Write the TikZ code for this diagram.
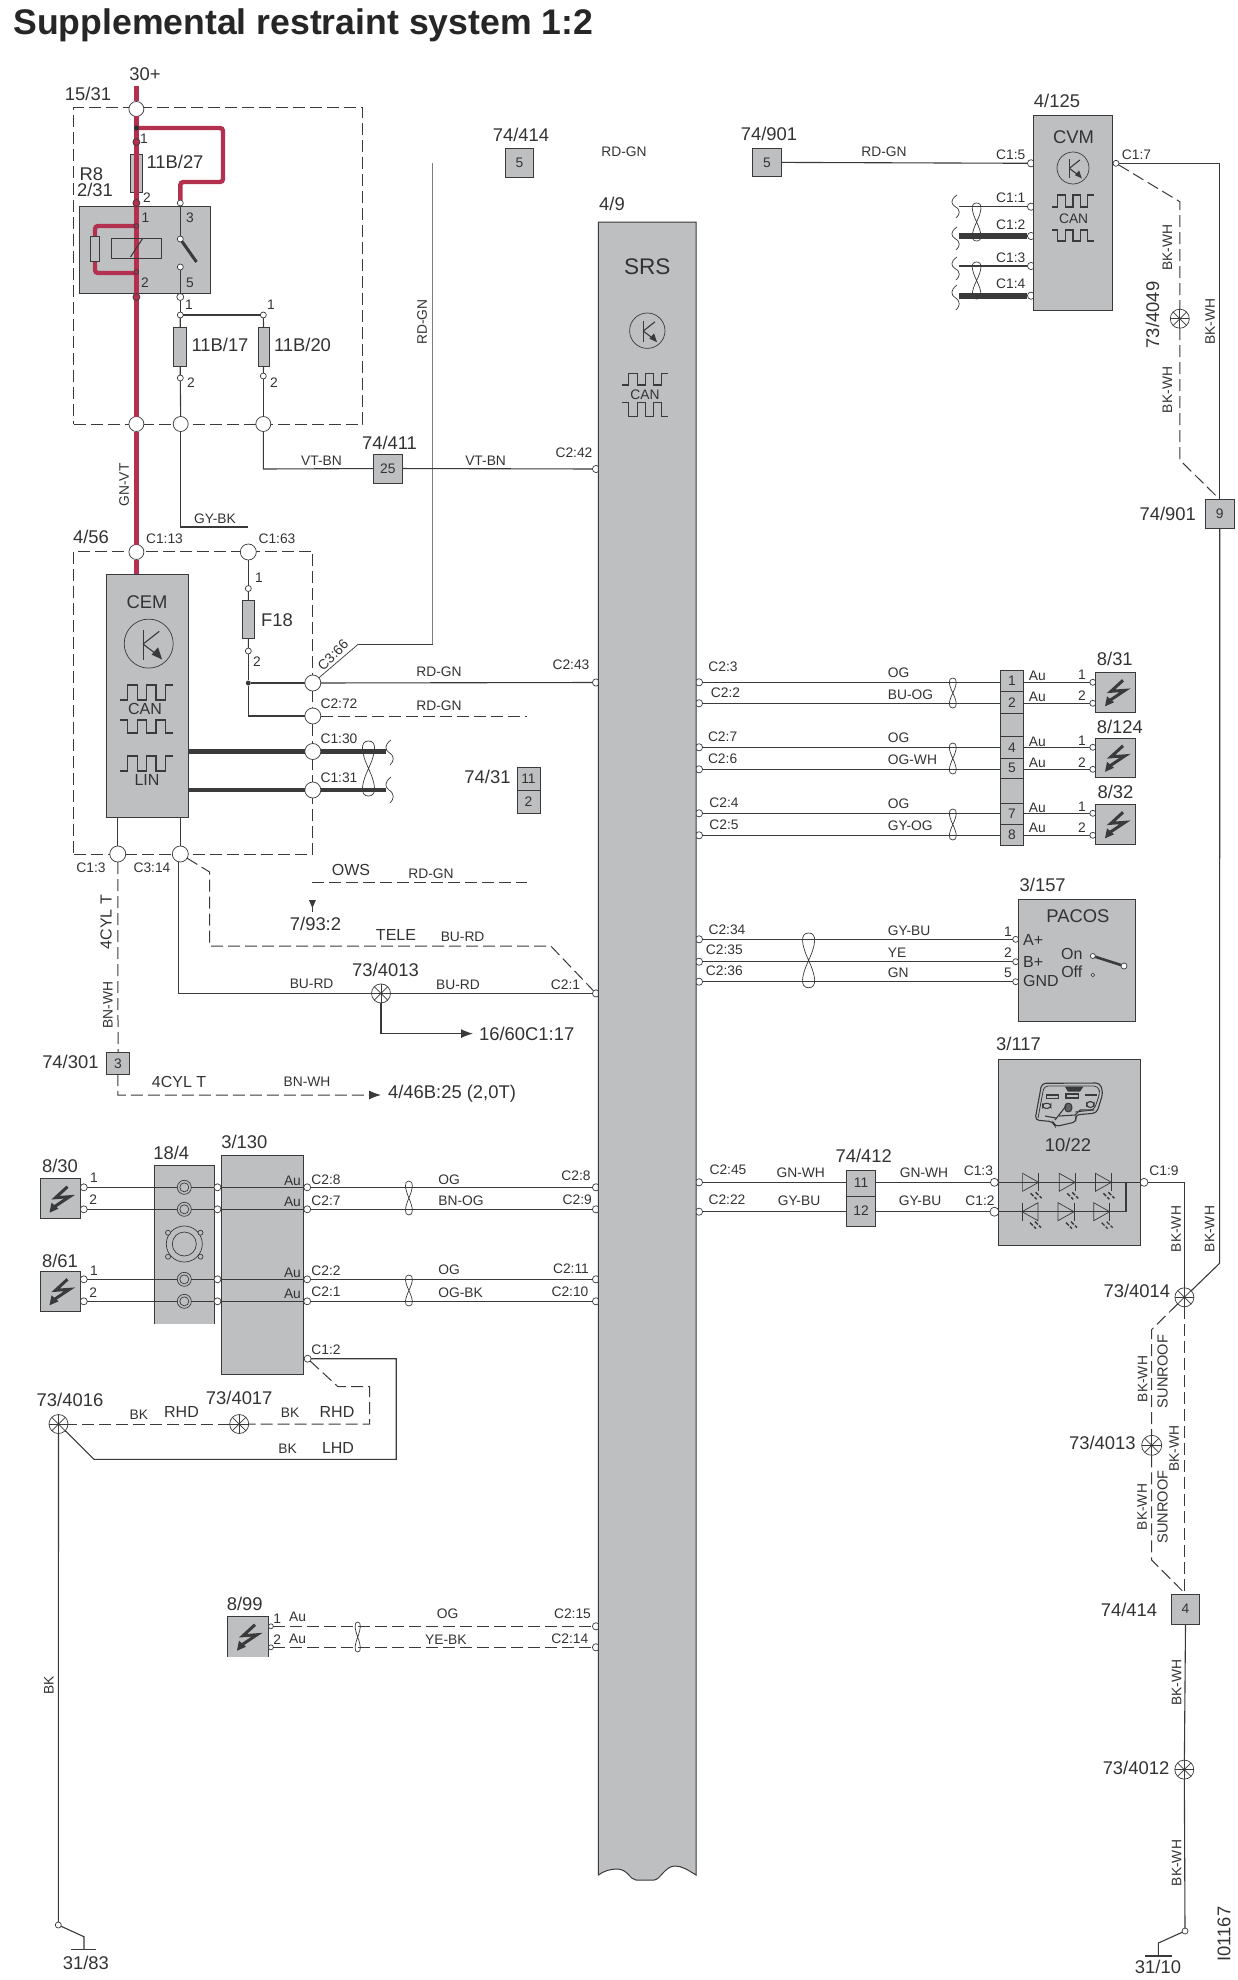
\documentclass[tikz,border=0pt]{standalone}
\usepackage{fontspec}
\setmainfont{Liberation Sans}
\usetikzlibrary{calc,arrows.meta}
\definecolor{wirec}{HTML}{3A3A3A}
\definecolor{boxc}{HTML}{BDBFC1}
\definecolor{redc}{HTML}{B4304F}
\definecolor{txtc}{HTML}{333333}
\newcounter{tn}
\tikzset{
 txt/.style={inner sep=0pt,text=txtc,font=\fontsize{6.9}{8}\selectfont},
 lg/.style={font=\fontsize{9.2}{10}\selectfont},
 md/.style={font=\fontsize{8}{9}\selectfont},
 vert/.style={rotate=90},
 bx/.style={rectangle,draw=wirec,fill=boxc,line width=.5pt,inner sep=0pt,outer sep=0pt,text=txtc,font=\fontsize{6.9}{8}\selectfont},
 pin/.style={circle,draw=wirec,fill=white,line width=.35pt,inner sep=0pt,outer sep=0pt},
 rpin/.style={pin,fill=redc},
 wr/.style={draw=wirec,line width=.55pt},
 wthin/.style={draw=wirec,line width=.35pt},
 dsh/.style={draw=wirec,line width=.5pt,dash pattern=on 6pt off 2.5pt},
 thick bus/.style={draw=wirec,line width=2.6pt},
 redw/.style={draw=redc,line width=2.8pt},
 redb/.style={draw=redc,line width=2.2pt,rounded corners=1.5pt},
}
\newcommand\TX[4][]{\stepcounter{tn}\node[txt,#1] (t\arabic{tn}) at (#2,#3) {#4};}
\newcommand\BX[7][]{\pgfmathsetmacro\bw{(#5-#3)*0.5}\pgfmathsetmacro\bh{(#6-#4)*0.5}%
 \node[bx,minimum width=\bw pt,minimum height=\bh pt,#1] (#2) at ({(#3+#5)/2},{(#4+#6)/2}) {#7};}
\newcommand\PN[5][]{\node[pin,minimum size=#5*0.5pt,#1] (#2) at (#3,#4) {};}
\newcommand\SPL[4]{\node[pin,minimum size=#4*0.5pt] (#1) at (#2,#3) {};
 \foreach \a/\b in {0/180,45/225,90/270,135/315}{\draw[wthin] (#1.\a) -- (#1.\b);}}
\newcommand\CC[3]{\coordinate (#1) at (#2,#3);}
\newcommand\WV[5][1]{\begin{scope}[shift={(#2,#3)},xscale=#4,yscale=#5]
 \draw[wr] (0,1)--(.14,1)--(.14,0)--(.33,0)--(.33,1)--(.5,1)--(.5,0)--(.68,0)--(.68,1)--(.85,1)--(.85,0)--(1,0);
 \end{scope}}
\newcommand\TR[3]{\begin{scope}[shift={(#1,#2)},scale=#3]
 \draw[wthin] (0,0) circle (1);
 \draw[wr] (-.23,-.55)--(-.23,.65);
 \draw[wr] (-.23,.02)--(.43,-.5);
 \draw[wr] (-.23,.02)--(.3,.42);
 \fill[wirec] (.55,.65)--(.12,.45)--(.38,.15)--cycle;
 \end{scope}}
\newcommand\TW[4]{\pgfmathsetmacro\ym{(#2+#3)/2}%
 \draw[wthin] (#1,\ym) .. controls ({#1-#4},{#2+(\ym-#2)*.45}) and ({#1-1.3*#4},#2) .. (#1,#2)
  .. controls ({#1+1.3*#4},#2) and ({#1+#4},{#2+(\ym-#2)*.45}) .. (#1,\ym)
  .. controls ({#1-#4},{#3-(#3-\ym)*.45}) and ({#1-1.3*#4},#3) .. (#1,#3)
  .. controls ({#1+1.3*#4},#3) and ({#1+#4},{#3-(#3-\ym)*.45}) .. (#1,\ym);}
\newcommand\BK[3]{\pgfmathsetmacro\dd{#3-#2}%
 \draw[wthin] ({#1+2},#2) .. controls ({#1-5},{#2+.2*\dd}) and ({#1-4},{#2+.4*\dd}) .. (#1,{#2+.5*\dd})
  .. controls ({#1+6},{#2+.65*\dd}) and ({#1+5},{#2+.85*\dd}) .. ({#1+1},#3);}
\newcommand\BOLT[2]{\begin{scope}[shift={(#1,#2)}]
 \draw[wirec,line width=1.5pt,line join=miter] (7,-12)--(-5,-1)--(9,-2)--(-6,8);
 \fill[wirec] (-11,14)--(-9,4)--(-2,10)--cycle;
 \end{scope}}
\newcommand\LED[3]{\begin{scope}[shift={(#1,#2)},xscale=#3]
 \draw[wthin] (-8,-9)--(-8,9)--(8,0)--cycle;
 \draw[wthin] (8,-9)--(8,9);
 \end{scope}
 \begin{scope}[shift={(#1,#2)}]
 \draw[wirec,line width=.7pt,dash pattern=on 2pt off .8pt] (0,11)--(6,17);
 \draw[wirec,line width=.7pt,dash pattern=on 2pt off .8pt] (5,10)--(11,16);
 \end{scope}}
\begin{document}
\begin{tikzpicture}[x=0.5pt,y=-0.5pt]
\useasboundingbox (0,0) rectangle (1237,1980);
\fill[white] (0,0) rectangle (1237,1980);
\node[inner sep=0pt,anchor=west,text=black!85,font=\fontsize{17.8}{19}\bfseries\selectfont] (title) at (13,25) {Supplemental restraint system 1:2};

% ---- edge pins, half hidden by their boxes
\foreach \n/\y in {42/469,43/682.5,1/993.4,8/1187.3,9/1209.3,11/1279.3,10/1301.3,15/1626.3,14/1647.3}{\PN{sl\n}{596}{\y}{7.2}}
\foreach \n/\y in {3/682.3,2/703.3,7/747.3,6/769.3,4/813.3,5/835.3,34/939.3,35/961.7,36/981.7,45/1182.3,22/1211.7}{\PN{sr\n}{699}{\y}{7.2}}
\foreach \n/\y in {5/163.3,1/206.7,2/236,3/266,4/295.7}{\PN{cv\n}{1031}{\y}{7.2}}
\foreach \n/\y in {a/682.3,b/703.3,c/747.3,d/769.3,e/813.3,f/835.3}{\PN{sq\n}{1092.8}{\y}{6}}
\foreach \n/\y in {a/939.3,b/961.7,c/981.7}{\PN{pc\n}{1015.7}{\y}{6}}
\PN{l3}{994.4}{1182.3}{8}\PN{l2}{994.4}{1211.7}{9}\PN{l9}{1144}{1182.3}{8}

% ---- SRS
\draw[wirec,fill=boxc,line width=.5pt] (598.3,222) -- (696,222) -- (696,1875) .. controls (688,1870) and (682,1866) .. (675,1866) .. controls (665,1866) and (660,1880) .. (654,1880) -- (636,1880) .. controls (630,1880) and (628,1869) .. (617,1869) .. controls (610,1869) and (604,1871) .. (598.3,1875) -- cycle;
\TX[font=\fontsize{11.3}{12}\selectfont]{647.3}{267}{SRS}
\TR{647.3}{330.7}{17.7}
\WV{622.3}{373.3}{46}{11.7}
\TX{645}{394.7}{CAN}
\WV{622.3}{416.7}{46}{-14}
\TX[lg]{612}{204}{4/9}

% ---- boxes
\BX[dsh,fill=none]{box15}{73.5}{108}{362.6}{424}{}
\BX[dsh,fill=none]{box456}{73.5}{551.4}{312.8}{854}{}
\BX{relay}{79.5}{206}{210.7}{293}{}
\BX{f27}{130.5}{154}{142.3}{192}{}
\BX{f17}{173.6}{327}{186.6}{366}{}
\BX{f20}{258.2}{327}{269.7}{366}{}
\BX{f18}{242.4}{600.4}{254.6}{638.6}{}
\BX{cem}{106.4}{574.3}{188.2}{817.7}{}
\BX{j411}{373}{454}{402.5}{483}{25}
\BX{j414a}{505.3}{148}{533.8}{177}{5}
\BX{j901a}{752.5}{148}{781.6}{176.7}{5}
\BX{cvm}{1033.5}{116}{1112.7}{310.3}{}
\BX{j901b}{1205}{499.3}{1234.5}{528}{9}
\BX{j31a}{517}{767}{540}{790}{11}
\BX{j31b}{517}{790}{540}{813}{2}
\BX{j301}{106.4}{1052.7}{129.7}{1074}{3}
\BX{bc1}{1000.4}{670.3}{1023.5}{691.7}{1}
\BX{bc2}{1000.4}{691.7}{1023.5}{713.3}{2}
\BX{bc3}{1000.4}{713.3}{1023.5}{736.7}{}
\BX{bc4}{1000.4}{736.7}{1023.5}{758.3}{4}
\BX{bc5}{1000.4}{758.3}{1023.5}{778.3}{5}
\BX{bc6}{1000.4}{778.3}{1023.5}{803.3}{}
\BX{bc7}{1000.4}{803.3}{1023.5}{824.3}{7}
\BX{bc8}{1000.4}{824.3}{1023.5}{845.7}{8}
\BX{s31}{1095.3}{672.3}{1135.8}{712.3}{}
\BX{s124}{1095.3}{738.3}{1135.8}{777.3}{}
\BX{s32}{1095.3}{804.3}{1135.8}{844.3}{}
\BOLT{1116}{692.3}\BOLT{1116}{757.8}\BOLT{1116}{824.3}
\BX{pacos}{1018.2}{899.3}{1135.8}{1021.3}{}
\BX{j412a}{846.3}{1170.3}{875.7}{1196}{11}
\BX{j412b}{846.3}{1196}{875.7}{1226.3}{12}
\BX{c117}{998.3}{1059.3}{1140.7}{1245.3}{}
\BX{j414b}{1171.3}{1594}{1199.7}{1624.4}{4}
\BX{s30}{40.3}{1178.7}{80.7}{1218.7}{}
\BX{s61}{40.3}{1271.3}{80.7}{1311.3}{}
\BOLT{60.5}{1198.7}\BOLT{60.5}{1291.3}
\fill[boxc] (154.2,1165.3) rectangle (214.7,1323.7);
\draw[wirec,line width=.5pt] (154.2,1323.7) -- (154.2,1165.3) -- (214.7,1165.3) -- (214.7,1323.7);
\BX{c130}{221.4}{1155.3}{303.7}{1374.3}{}
\BX[draw=none]{s99}{227.3}{1616.7}{268.6}{1656.7}{}
\draw[wirec,line width=.5pt] (227.3,1656.7) -- (227.3,1616.7) -- (268.6,1616.7) -- (268.6,1656.7);
\BOLT{248}{1636.7}

% ---- R8 relay and power feed
\CC{btop}{136.4}{86}
\PN{ctop}{136.4}{109}{15}
\PN{c15a}{136.4}{424}{15}
\PN{c15b}{180.7}{424}{15}
\PN{c15c}{263.3}{424}{15}
\PN{c13}{136.4}{552}{15}
\PN{c63}{248.3}{552}{16}
\draw[redw] (btop) -- (ctop);
\draw[redw] (ctop) -- (c15a);
\draw[redw] (c15a) -- (c13);
\draw[redw] (c13) -- (c13 |- cem.north);
\CC{rb1}{136.4}{128}\CC{rb2}{223}{128}\CC{rb3}{223}{182}\CC{rb4}{180.3}{182}
\PN{p3}{180.3}{203}{6}
\draw[redb] (rb1) -- (rb2) -- (rb3) -- (rb4) -- (p3);
\CC{rl1}{136.4}{226}\CC{rl2}{95}{226}\CC{rl3}{95}{273}\CC{rl4}{136.4}{273}
\draw[redb] (rl1) -- (rl2) -- (rl3) -- (rl4);
\BX{coilr}{90.5}{236}{99.6}{261}{}
\BX[fill=none]{coil}{111.5}{238}{161.3}{258}{}
\draw[wr] (130.5,257) -- (142.3,239);
\fill[wirec!80!black] (136.4,128) circle (2.6);
\node[rpin,minimum size=3.5pt] (p1a) at (136.4,142) {};
\node[rpin,minimum size=3.5pt] (p2a) at (136.4,203) {};
\node[rpin,minimum size=3.5pt] (p2b) at (136.4,297) {};
\node[pin,minimum size=2.3pt,fill=redc] (p1c) at (136.4,226) {};
\node[pin,minimum size=2.3pt,fill=redc] (p2c) at (136.4,272) {};
\PN{piv}{180.3}{239}{6}
\PN{con}{180.3}{267}{6}
\PN{p5}{180.3}{297}{7}
\PN{j17}{180.3}{315}{6}
\PN{j20}{263.3}{315}{6}
\PN{p17}{180.3}{378}{6}
\PN{p20}{263.3}{376}{6}
\CC{blade}{196.5}{262}
\draw[wr] (p3) -- (piv);
\draw[wirec,line width=1.5pt] (piv) -- (blade);
\draw[wr] (con) -- (p5);
\draw[wr] (p5) -- (j17);
\draw[wr] (j17) -- (j20);
\draw[wr] (j17) -- (f17);
\draw[wr] (j20) -- (f20);
\draw[wr] (f17) -- (p17);
\draw[wr] (f20) -- (p20);
\draw[wr] (p17) -- (c15b);
\draw[wr] (p20) -- (c15c);
\CC{gy1}{180.7}{527}\CC{gy2}{247.5}{527}
\draw[wr] (c15b) -- (gy1) -- (gy2);
\CC{vt1}{265}{469}
\draw[wr] (c15c) -- (c15c |- vt1) -- (j411);
\draw[wr] (j411) -- (sl42);

% ---- CEM wiring
\PN{p18a}{248.3}{588.5}{6}
\PN{p18b}{248.3}{651}{6}
\node[circle,fill=wirec,inner sep=0pt,minimum size=2.5pt] (jd) at (248.3,683) {};
\PN{c66}{312.8}{683}{16}
\PN{c72}{312.8}{716}{16}
\PN{c30}{312.8}{751.5}{16}
\PN{c31}{312.8}{790}{16}
\PN{c3}{117.8}{854}{16}
\PN{c14}{180.3}{854}{16}
\draw[wr] (c63) -- (p18a); \draw[wr] (p18a) -- (f18); \draw[wr] (f18) -- (p18b); \draw[wr] (p18b) -- (jd);
\draw[wr] (jd) -- (c66);
\draw[wr] (c66) -- (sl43);
\CC{j72}{248.3}{716}
\draw[wr] (jd) -- (j72) -- (c72);
\CC{e72}{527}{716}
\draw[dsh] (c72) -- (e72);
\CC{d661}{358}{644.4}\CC{d662}{432.6}{644.4}\CC{d663}{432.6}{163}
\draw[wthin] (c66) -- (d661) -- (d662) -- (d663);
\CC{b30}{386}{751.5}\CC{b31}{386}{790}
\draw[thick bus] (cem.east |- c30) -- (c30);
\draw[thick bus] (c30) -- (b30);
\draw[draw=wirec,line width=2pt] (cem.east |- c31) -- (c31);
\draw[draw=wirec,line width=2pt] (c31) -- (b31);
\TW{368.5}{741}{796}{7}
\BK{389}{740}{765}\BK{389}{777}{803}
\draw[wr] (cem.south -| c3) -- (c3);
\draw[wr] (cem.south -| c14) -- (c14);
\draw[dsh] (c3) -- (j301);
\CC{d31}{117.8}{1095}\CC{a46}{381}{1095}
\draw[dsh,-{Latex[length=6pt,width=4.5pt]}] (j301) -- (d31) -- (a46);
\CC{d14a}{178.7}{993.4}
\SPL{sp13a}{381}{993.4}{19}
\CC{d14b}{178.7}{862}
\draw[wr] (d14b) -- (d14a) -- (sp13a);
\draw[wr] (sp13a) -- (sl1);
\CC{a16a}{381}{1033.6}\CC{a16b}{473}{1033.6}
\draw[wr,-{Latex[length=6pt,width=4.5pt]}] (sp13a) -- (a16a) -- (a16b);
\CC{td1}{209.6}{872}\CC{td2}{209.6}{946}\CC{td3}{550.8}{946}
\draw[dsh] (c14) -- (td1) -- (td2) -- (td3) -- (sl1);
\CC{ow1}{312}{882}\CC{ow2}{527}{882}
\draw[dsh] (ow1) -- (ow2);
\CC{ar1}{312.4}{912}\CC{ar2}{312.4}{900}
\draw[wr] (ar1) -- (ar2);
\fill[wirec] (ar2) ++(-3.5,0) -- ++(7,0) -- ++(-3.5,8) -- cycle;

% ---- CVM
\draw[wr] (j901a) -- (cv5);
\CC{b1}{959}{206.7}\CC{b2}{959}{236}\CC{b3}{959}{266}\CC{b4}{959}{295.7}
\draw[wr] (b1) -- (cv1);
\draw[draw=wirec,line width=3pt] (b2) -- (cv2);
\draw[wr] (b3) -- (cv3);
\draw[draw=wirec,line width=3pt] (b4) -- (cv4);
\TW{976.6}{203}{241}{5}\TW{976.6}{262}{299}{5}
\BK{955}{195}{218}\BK{955}{227}{250}\BK{955}{257}{280}\BK{955}{285}{310}
\PN{cv7}{1116}{163.3}{6}
\CC{c71}{1219.6}{163.3}
\draw[wr] (cv7) -- (c71) -- (c71 |- j901b.north);
\CC{dc1}{1179.8}{201.7}\CC{dc2}{1179.8}{460}
\SPL{sp49}{1179.8}{318.7}{19}
\draw[dsh] (cv7) -- (dc1) -- (sp49);
\draw[dsh] (sp49) -- (dc2) -- (c71 |- j901b.north);
\TR{1073}{168}{16}
\WV{1052}{195}{42}{12}
\TX{1073.6}{219}{CAN}
\WV{1052}{241}{42}{-11}

% ---- right trunk
\SPL{sp14}{1184.4}{1297.3}{19}
\CC{r1}{1219.6}{1263.3}
\draw[wr] (j901b.south) -- (r1) -- (sp14);
\CC{c9a}{1184.4}{1182.3}
\draw[wr] (l9) -- (c9a) -- (sp14);
\SPL{sp13b}{1151.7}{1445.3}{20}
\CC{sr1}{1151.7}{1329.5}\CC{sr2x}{1151.7}{1560}
\draw[dsh] (sp14) -- (sr1) -- (sp13b);
\draw[dsh] (sp13b) -- (sr2x) -- (j414b.north);
\draw[dsh] (sp14) -- (sp14 |- j414b.north);
\SPL{sp12}{1184.3}{1769.6}{19}
\PN{g10}{1185}{1931}{6}
\CC{g101}{1158.3}{1943}\CC{g102}{1158.3}{1956}\CC{g103}{1145}{1956}\CC{g104}{1171.7}{1956}
\draw[wr] (j414b.south) -- (sp12);
\draw[wr] (sp12) -- (g10);
\draw[wr] (g10) -- (g101) -- (g102);
\draw[wr] (g103) -- (g104);

% ---- right side wiring to SRS
\draw[wr] (sr3) -- (sr3 -| bc1.west); \draw[wr] (sr2) -- (sr2 -| bc2.west);
\draw[wr] (sr7) -- (sr7 -| bc4.west); \draw[wr] (sr6) -- (sr6 -| bc5.west);
\draw[wr] (sr4) -- (sr4 -| bc7.west); \draw[wr] (sr5) -- (sr5 -| bc8.west);
\draw[wr] (sqa -| bc1.east) -- (sqa); \draw[wr] (sqb -| bc2.east) -- (sqb);
\draw[wr] (sqc -| bc4.east) -- (sqc); \draw[wr] (sqd -| bc5.east) -- (sqd);
\draw[wr] (sqe -| bc7.east) -- (sqe); \draw[wr] (sqf -| bc8.east) -- (sqf);
\TW{952.8}{678}{708}{4}\TW{952.8}{743}{774}{4}\TW{952.8}{809}{840}{4}
\draw[wr] (sr34) -- (pca); \draw[wr] (sr35) -- (pcb); \draw[wr] (sr36) -- (pcc);
\TW{808.6}{933}{987.7}{7}
\draw[wr] (sr45) -- (sr45 -| j412a.west); \draw[wr] (sr22) -- (sr22 -| j412b.west);
\draw[wr] (sr45 -| j412a.east) -- (l3); \draw[wr] (sr22 -| j412b.east) -- (l2);

% ---- PACOS switch
\PN{swa}{1092.8}{956}{5}
\PN{swb}{1124}{966}{6}
\PN{swc}{1092.8}{975}{3.5}
\draw[wirec,line width=1.3pt] (swa) -- (swb);

% ---- 3/117 LEDs and console icon
\CC{d1}{998.3}{1182.3}\CC{d2}{1126}{1182.3}\CC{d3}{998.3}{1211.7}\CC{d4}{1126}{1211.7}\CC{d5}{1140.7}{1182.3}
\draw[wr] (d1) -- (d5);
\draw[wr] (d3) -- (d4) -- (d2);
\LED{1030.6}{1182.3}{1}\LED{1067.2}{1182.3}{1}\LED{1103.4}{1182.3}{1}
\LED{1030}{1211.7}{-1}\LED{1066}{1211.7}{1}\LED{1101.7}{1211.7}{1}
\draw[wirec,line width=.55pt,rounded corners=2pt] (1035,1120)--(1041.7,1083.3)--(1100,1083)--(1103,1093)--(1096.7,1113)--(1075,1115)--(1076.7,1121.7)--(1055,1126.7)--(1053.3,1121.7)--cycle;
\draw[wirec,line width=.4pt,rounded corners=2pt] (1038,1118)--(1044,1086)--(1098,1086)--(1100,1093)--(1094,1110)--(1075,1112);
\fill[wirec] (1065,1086.7)--(1083.3,1086.7)--(1080,1091.7)--(1068,1091.7)--cycle;
\draw[wr] (1046.7,1095) rectangle (1058.3,1098.3);
\draw[wr] (1066,1094) rectangle (1078.3,1098);
\fill[wirec] (1085,1094) rectangle (1096.7,1096);
\draw[wr,rounded corners=1.5pt] (1042.7,1103.3) rectangle (1050.7,1108.3);
\draw[wr,rounded corners=1.5pt] (1086.7,1101.7) rectangle (1094,1107.3);
\draw[wr,fill=wirec!70!boxc,rounded corners=1.5pt] (1065,1103.3) rectangle (1071.7,1111.7);
\draw[wr] (1055,1120)--(1066,1106); \draw[wr] (1059,1116)--(1075,1115)--(1080,1110)--(1094,1110);
\draw[wr] (1045,1116)--(1056,1118);

% ---- 8/30, 8/61 side
\foreach \n/\y in {a/1187.3,b/1209.3,c/1279.3,d/1301.3}{
 \PN{q\n}{83.8}{\y}{7}
 \PN{w\n}{217.5}{\y}{7}
 \PN{z\n}{307.2}{\y}{7}
 \node[pin,fill=boxc,minimum size=7pt] (o\n) at (184.3,\y) {};
 \node[pin,fill=boxc,minimum size=4.5pt] (i\n) at (184.3,\y) {};
}
\foreach \n/\m in {a/8,b/9,c/11,d/10}{
 \draw[wr] (q\n) -- (o\n);
 \draw[wr] (o\n) -- (w\n);
 \draw[wr] (w\n) -- (z\n);
 \draw[wr] (z\n) -- (sl\m);
}
\node[circle,draw=wirec,line width=.35pt,minimum size=18pt,inner sep=0pt] (spk1) at (184.3,1244) {};
\node[circle,draw=wirec,line width=.35pt,minimum size=12pt,inner sep=0pt] (spk2) at (184.3,1244) {};
\foreach \x/\y/\m in {168/1232.7/1,200.5/1232.7/2,168/1256.7/3,200.5/1256.7/4}{\node[pin,fill=boxc,minimum size=2.5pt] (sk\m) at (\x,\y) {};}
\TW{408.9}{1181}{1215}{4}\TW{408.9}{1275}{1306}{4}

% ---- C1:2 grounds
\PN{c12}{307.6}{1358.7}{7}
\SPL{sp16}{58.5}{1424}{19}
\SPL{sp17}{239.2}{1424}{19}
\CC{e1}{396.2}{1358.7}\CC{e2}{396.2}{1459.3}\CC{e3}{94}{1459.3}
\draw[wr] (c12) -- (e1) -- (e2) -- (e3) -- (sp16);
\CC{h1}{338}{1386.7}\CC{h2}{369.7}{1386.7}\CC{h3}{369.7}{1424}
\draw[dsh] (c12) -- (h1) -- (h2) -- (h3) -- (sp17);
\draw[dsh] (sp17) -- (sp16);
\PN{g83}{58.3}{1925}{6}
\CC{g831}{84}{1936.7}\CC{g832}{84}{1949.3}\CC{g833}{71}{1949.3}\CC{g834}{96.4}{1949.3}
\draw[wr] (sp16) -- (g83);
\draw[wr] (g83) -- (g831) -- (g832);
\draw[wr] (g833) -- (g834);

% ---- 8/99
\PN{q99a}{270.9}{1626.3}{5}\PN{q99b}{270.9}{1647.3}{5}
\draw[dsh] (q99a) -- (sl15);
\draw[dsh] (q99b) -- (sl14);
\TW{357.7}{1622}{1652}{3}

% ---- CEM icons
\TR{148.7}{643.6}{24.5}
\WV{120}{685}{53}{15}
\WV{120}{733}{53}{-13}
\WV{120}{756}{53}{15}
\TX[font=\fontsize{8}{9}\selectfont]{145}{709.4}{CAN}
\TX[font=\fontsize{8}{9}\selectfont]{147}{780}{LIN}
\TX[lg]{147}{602}{CEM}
\TX[lg]{1073.6}{136.7}{CVM}
\TX[lg]{1077.9}{916}{PACOS}

% ---- large labels
\TX[lg]{145}{74}{30+}\TX[lg]{88}{94}{15/31}\TX[lg]{175}{162}{11B/27}\TX[lg]{91.3}{174}{R8}\TX[lg]{95}{190}{2/31}
\TX[lg]{220}{345}{11B/17}\TX[lg]{302.5}{345}{11B/20}\TX[lg]{521}{135}{74/414}\TX[lg]{389.5}{443}{74/411}
\TX[lg]{91}{537}{4/56}\TX[lg]{277}{620}{F18}\TX[lg]{487.5}{777}{74/31}\TX[lg]{315.5}{924}{7/93:2}
\TX[lg]{385.5}{970.4}{73/4013}\TX[lg]{526.7}{1033.6}{16/60C1:17}\TX[lg]{70.4}{1061.5}{74/301}\TX[lg]{452}{1094}{4/46B:25 (2,0T)}
\TX[lg]{769}{134}{74/901}\TX[lg]{1057}{101}{4/125}\TX[lg,vert]{1152.5}{315}{73/4049}\TX[lg]{1167.7}{514}{74/901}
\TX[lg]{1114.8}{659.3}{8/31}\TX[lg]{1119.8}{726.7}{8/124}\TX[lg]{1115.5}{792.3}{8/32}\TX[lg]{1042.7}{885}{3/157}
\TX[lg]{1018.5}{1044}{3/117}\TX[lg]{1068}{1145}{10/22}\TX[lg]{863.7}{1155.7}{74/412}\TX[lg]{1136.8}{1290.7}{73/4014}
\TX[lg]{1102.3}{1443}{73/4013}\TX[lg]{1129}{1609.6}{74/414}\TX[lg]{1136}{1768}{73/4012}\TX[lg]{1158}{1967}{31/10}
\TX[lg,vert]{1224}{1934}{I01167}
\TX[lg]{60}{1166}{8/30}\TX[lg]{60}{1261}{8/61}\TX[lg]{171.2}{1153.3}{18/4}\TX[lg]{244.4}{1142.3}{3/130}
\TX[lg]{70}{1400}{73/4016}\TX[lg]{239.2}{1398.3}{73/4017}\TX[lg]{244.7}{1604}{8/99}\TX[lg]{85.9}{1962.7}{31/83}

% ---- medium labels
\TX[md,vert]{106}{922}{4CYL T}\TX[md]{179}{1082}{4CYL T}\TX[md]{351}{870}{OWS}\TX[md]{396}{934.5}{TELE}
\TX[md]{181.5}{1412.3}{RHD}\TX[md]{337}{1412.3}{RHD}\TX[md]{338}{1448.3}{LHD}
\TX[md]{1071.8}{954.3}{On}\TX[md]{1071.8}{971.7}{Off}
\TX[md,anchor=west]{1022.8}{940}{A+}\TX[md,anchor=west]{1022.8}{961.7}{B+}\TX[md,anchor=west]{1022.8}{981}{GND}
\TX[font=\fontsize{7.3}{8}\selectfont,vert]{1162.7}{1371.5}{SUNROOF}\TX[font=\fontsize{7.3}{8}\selectfont,vert]{1162.7}{1507}{SUNROOF}

% ---- pin numbers
\TX{144}{139}{1}\TX{147}{198}{2}\TX{145.5}{218}{1}\TX{190}{218}{3}\TX{145}{283}{2}\TX{190}{283}{5}
\TX{189}{305}{1}\TX{271}{305}{1}\TX{191}{383}{2}\TX{274}{383}{2}\TX{259}{578}{1}\TX{257}{662}{2}
\foreach \x/\y/\s in {1082/675/1,1082/696/2,1082/741/1,1082/762.7/2,1082/806.7/1,1082/827.7/2,1008/932/1,1008/953/2,1008/973/5,94/1177.3/1,93.3/1199.3/2,94/1270.7/1,93.3/1292.7/2,277.3/1619/1,277.3/1640/2}{\TX{\x}{\y}{\s}}
\foreach \y in {675.7,696.7,741.7,763.3,807.7,828.3}{\TX[anchor=west]{1028.5}{\y}{Au}}
\foreach \y in {1180.7,1202.3,1272.7,1294.3}{\TX[anchor=east]{301.3}{\y}{Au}}
\TX{297.5}{1616.7}{Au}\TX{297.5}{1638.3}{Au}

% ---- small labels: connectors and wire colours
\TX{164.5}{539}{C1:13}\TX{277}{539}{C1:63}\TX{574}{453}{C2:42}\TX{571}{665}{C2:43}\TX{339}{704}{C2:72}
\TX{339}{739}{C1:30}\TX{339}{778}{C1:31}\TX{91}{868}{C1:3}\TX{152}{868}{C3:14}\TX{565.5}{985}{C2:1}
\TX[rotate=45]{333}{655}{C3:66}
\TX{1010.7}{155}{C1:5}\TX{1136.5}{155}{C1:7}\TX{1010.7}{198}{C1:1}\TX{1010.7}{225}{C1:2}\TX{1010.7}{258}{C1:3}\TX{1010.7}{284}{C1:4}
\TX{723}{667}{C2:3}\TX{725.5}{693}{C2:2}\TX{722.6}{736.7}{C2:7}\TX{722.6}{759}{C2:6}\TX{724}{803}{C2:4}\TX{724}{825}{C2:5}
\TX{727}{929.3}{C2:34}\TX{724.4}{950}{C2:35}\TX{724.4}{970.3}{C2:36}\TX{728}{1170}{C2:45}\TX{727}{1200}{C2:22}
\TX{978.4}{1171}{C1:3}\TX{980}{1201}{C1:2}\TX{1164}{1171}{C1:9}
\TX{326}{1179.3}{C2:8}\TX{326}{1200.3}{C2:7}\TX{326}{1270.7}{C2:2}\TX{326}{1291.3}{C2:1}
\TX{576}{1176}{C2:8}\TX{577.3}{1200}{C2:9}\TX{571}{1268.3}{C2:11}\TX{570}{1292}{C2:10}\TX{326}{1349.3}{C1:2}
\TX{572.5}{1613.3}{C2:15}\TX{569.8}{1638.3}{C2:14}
\TX[vert]{422}{322}{RD-GN}\TX{215}{519}{GY-BK}\TX{321.5}{461}{VT-BN}\TX{485.6}{461}{VT-BN}\TX[vert]{124}{485}{GN-VT}
\TX{624}{152}{RD-GN}\TX{884}{152}{RD-GN}\TX{439}{672}{RD-GN}\TX{439}{706}{RD-GN}\TX{431}{874}{RD-GN}\TX{462.6}{937}{BU-RD}
\TX{311.6}{984}{BU-RD}\TX{458}{985}{BU-RD}\TX[vert]{108}{1005}{BN-WH}\TX{307}{1082}{BN-WH}
\TX[vert]{1167.4}{248}{BK-WH}\TX[vert]{1167.4}{390}{BK-WH}\TX[vert]{1210}{321.7}{BK-WH}
\foreach \y/\s in {673/OG,695/BU-OG,738/OG,760/OG-WH,804/OG,826/GY-OG,930.7/GY-BU,952.7/YE,972.7/GN}{\TX[anchor=west]{887.5}{\y}{\s}}
\TX{800.8}{1172.7}{GN-WH}\TX{799}{1201}{GY-BU}\TX{924}{1172.7}{GN-WH}\TX{920}{1201}{GY-BU}
\TX[vert]{1176}{1229}{BK-WH}\TX[vert]{1209.7}{1229}{BK-WH}
\TX[vert]{1142.7}{1379}{BK-WH}\TX[vert]{1142}{1507}{BK-WH}\TX[vert]{1174}{1448.7}{BK-WH}\TX[vert]{1176.7}{1682.5}{BK-WH}\TX[vert]{1176.7}{1863}{BK-WH}
\foreach \y/\s in {1179.3/OG,1201/BN-OG,1270/OG,1292.7/OG-BK}{\TX[anchor=west]{438}{\y}{\s}}
\TX{138.8}{1415}{BK}\TX{290}{1412.7}{BK}\TX{287.5}{1449}{BK}\TX[vert]{49}{1685.7}{BK}
\TX{447.7}{1614}{OG}\TX{445.8}{1639.3}{YE-BK}
\end{tikzpicture}
\end{document}
